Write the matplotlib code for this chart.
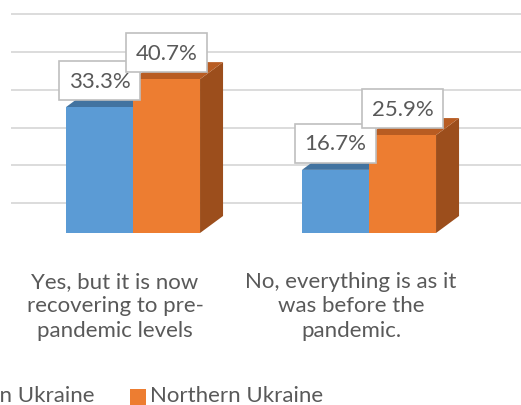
import numpy as np
import matplotlib
matplotlib.use("Agg")
import matplotlib.pyplot as plt
from matplotlib.patches import Polygon, Rectangle
import matplotlib.transforms as mtransforms

# data
categories = ["Yes, but it is now\nrecovering to pre-\npandemic levels",
              "No, everything is as it\nwas before the\npandemic."]
series_names = ["Eastern Ukraine", "Northern Ukraine"]
blue_vals = [33.3, 16.7]
orange_vals = [40.7, 25.9]
grid_vals = [10, 20, 30, 40, 50, 60]

plt.rcParams['font.family'] = ['Lato', 'DejaVu Sans']
txt_col = '#595959'

fig = plt.figure(figsize=(5.21, 4.06), dpi=100)
ax = fig.add_axes([0, 0, 1, 1])
ax.set_xlim(-0.5636, 1.644)
ax.set_ylim(-45.5, 61.9)
ax.axis('off')

w = 0.284          # bar width (group spacing = 1)
dx, dy = 0.0975, 4.5   # 3d depth offset

# gridlines on the back wall, shifted down a bit (perspective)
shift = mtransforms.offset_copy(ax.transData, fig=fig, x=0, y=-8, units='dots')
for g in grid_vals:
    ax.plot([-0.516, 1.644], [g, g], color='#d9d9d9', lw=1.3, zorder=0,
            transform=shift, solid_capstyle='butt')

def bar3d(x, h, front, top, side, z):
    l, r = x - w / 2, x + w / 2
    ax.add_patch(Polygon([(r, 0), (r + dx, dy), (r + dx, h + dy), (r, h)],
                         closed=True, fc=side, ec='none', zorder=z))
    ax.add_patch(Polygon([(l, h), (r, h), (r + dx, h + dy), (l + dx, h + dy)],
                         closed=True, fc=top, ec='none', zorder=z))
    ax.add_patch(Rectangle((l, 0), w, h, fc=front, ec='none', zorder=z + 0.5))

x = np.arange(len(categories))
for i in x:
    bar3d(i - w / 2, blue_vals[i], '#5b9bd5', '#4273a0', '#3d6a94', 2)
    bar3d(i + w / 2, orange_vals[i], '#ed7d31', '#b85c22', '#9c4e1c', 3)

for i in x:
    for xc, v in [(i - w / 2, blue_vals[i]), (i + w / 2, orange_vals[i])]:
        ax.annotate(f"{v:.1f}%", (xc, v), xytext=(0, 26.5), textcoords='offset pixels',
                    ha='center', va='center', fontsize=16, color=txt_col, zorder=10,
                    bbox=dict(boxstyle='square,pad=0.42', fc='white', ec='#bfbfbf', lw=1.2))

# category labels below the bars (pixel 272 from top), shifted left for perspective
for i, c in enumerate(categories):
    ax.annotate(c, (i, (234 - 272) / 3.78), xytext=(-18, 0), textcoords='offset pixels',
                ha='center', va='top', fontsize=16, color=txt_col, linespacing=1.28)

# legend, cut off at the left like the original
fig.text(95 / 521, 1 - 396 / 406, series_names[0], ha='right', va='center',
         fontsize=16, color=txt_col)
fig.patches.append(Rectangle((130 / 521, 0), 16 / 521, 16 / 406, fc='#ed7d31',
                             ec='none', transform=fig.transFigure, figure=fig))
fig.text(150 / 521, 1 - 396 / 406, series_names[1], ha='left', va='center',
         fontsize=16, color=txt_col)

fig.savefig("out.png", dpi=100, facecolor='white')
